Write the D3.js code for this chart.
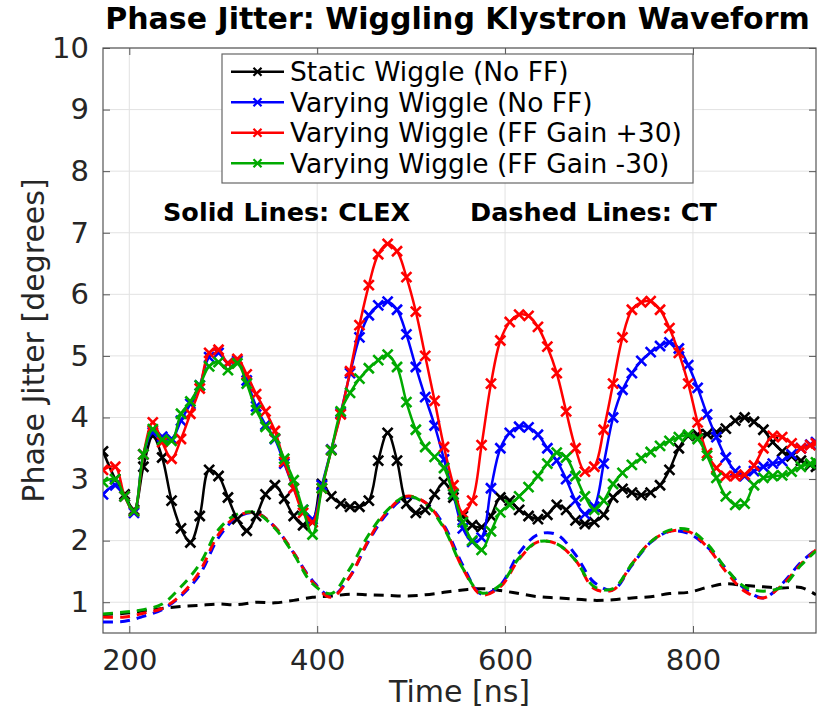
<!DOCTYPE html>
<html><head><meta charset="utf-8">
<script src="https://cdn.jsdelivr.net/npm/d3@7"></script>
<style>body{margin:0;background:#fff}svg{display:block}text{font-family:"DejaVu Sans",sans-serif}</style>
</head><body><svg id="c" width="823" height="712"></svg>
<script>
// ---------- data ----------
const clexTime = [172,185,195,205,215,225,235,245,255,265,275,285,295,305,315,325,335,345,355,365,375,385,395,405,415,425,435,445,455,465,475,485,495,505,515,525,535,545,555,565,575,585,595,605,615,625,635,645,655,665,675,685,695,705,715,725,735,745,755,765,775,785,795,805,815,825,835,845,855,865,875,885,895,905,915,925,931];
const staticNoFF = [3.45,3.0,2.75,2.5,3.2,3.7,3.35,2.65,2.2,1.97,2.4,3.15,3.05,2.7,2.35,2.16,2.4,2.75,2.9,2.68,2.4,2.25,2.3,2.92,2.72,2.6,2.55,2.55,2.65,3.3,3.75,3.3,2.6,2.45,2.5,2.75,2.95,2.7,2.4,2.25,2.22,2.4,2.7,2.65,2.5,2.4,2.35,2.42,2.58,2.5,2.33,2.27,2.3,2.42,2.7,2.84,2.78,2.74,2.78,2.9,3.15,3.5,3.7,3.72,3.73,3.76,3.82,3.95,4.0,3.93,3.8,3.6,3.45,3.37,3.3,3.23,3.2];
const varyingNoFF = [2.75,2.9,2.72,2.45,3.4,3.76,3.69,3.65,3.95,4.22,4.52,4.98,5.05,4.88,4.92,4.6,4.18,3.88,3.65,3.25,2.85,2.5,2.35,2.9,3.48,4.07,4.72,5.3,5.66,5.82,5.88,5.75,5.35,4.82,4.33,3.87,3.32,2.75,2.2,1.98,2.05,2.85,3.5,3.75,3.85,3.84,3.72,3.5,3.3,3.0,2.65,2.43,2.55,3.25,4.0,4.45,4.72,4.92,5.06,5.16,5.22,5.12,4.85,4.48,4.05,3.68,3.35,3.13,3.05,3.13,3.2,3.25,3.29,3.4,3.5,3.56,3.6];
const varyingFFp30 = [3.15,3.2,2.72,2.48,3.4,3.92,3.6,3.33,3.65,4.06,4.47,5.05,5.1,4.88,4.95,4.7,4.38,4.1,3.78,3.28,2.85,2.45,2.3,2.85,3.47,4.05,4.75,5.5,6.15,6.65,6.82,6.7,6.28,5.72,5.0,4.27,3.52,2.9,2.45,2.65,3.55,4.55,5.25,5.55,5.67,5.65,5.47,5.15,4.72,4.1,3.5,3.12,3.2,3.8,4.55,5.3,5.75,5.87,5.89,5.75,5.45,5.05,4.55,3.92,3.42,3.18,3.05,3.05,3.07,3.22,3.5,3.7,3.68,3.58,3.5,3.55,3.58];
const varyingFFm30 = [2.95,3.0,2.72,2.48,3.4,3.81,3.64,3.62,4.06,4.26,4.52,4.83,4.9,4.77,4.88,4.55,4.12,3.85,3.66,3.33,2.98,2.5,2.1,2.85,3.47,4.1,4.4,4.63,4.8,4.93,5.02,4.82,4.25,3.8,3.52,3.36,3.18,2.75,2.3,2.0,1.85,2.15,2.46,2.58,2.72,2.87,3.05,3.25,3.43,3.35,3.05,2.72,2.5,2.65,2.92,3.1,3.23,3.34,3.44,3.54,3.62,3.68,3.72,3.65,3.38,3.02,2.72,2.58,2.6,2.9,3.02,3.05,3.06,3.12,3.2,3.25,3.27];

const ctTime = [172,195,215,235,255,275,295,315,335,355,375,395,415,435,455,475,495,515,535,555,575,595,615,635,655,675,695,715,735,755,775,795,815,835,855,875,895,915,931];
const ctStatic = [0.8,0.82,0.86,0.9,0.93,0.95,0.97,0.96,1.0,0.99,1.03,1.08,1.1,1.13,1.12,1.11,1.1,1.12,1.16,1.2,1.22,1.19,1.14,1.09,1.07,1.05,1.03,1.04,1.07,1.09,1.14,1.16,1.24,1.3,1.27,1.25,1.23,1.24,1.12];
const ctVaryingNoFF = [0.68,0.69,0.77,0.88,1.1,1.45,2.05,2.38,2.45,2.22,1.8,1.35,1.1,1.42,2.0,2.45,2.7,2.62,2.25,1.6,1.13,1.28,1.8,2.1,2.1,1.77,1.32,1.2,1.6,1.97,2.15,2.12,1.9,1.55,1.22,1.07,1.3,1.65,1.85];
const ctFFp30 = [0.76,0.76,0.82,0.9,1.12,1.5,2.1,2.4,2.45,2.22,1.8,1.33,1.08,1.42,2.02,2.48,2.72,2.62,2.22,1.55,1.12,1.25,1.7,1.98,1.95,1.68,1.22,1.2,1.62,1.98,2.15,2.15,1.9,1.5,1.18,1.07,1.28,1.62,1.85];
const ctFFm30 = [0.81,0.84,0.88,0.97,1.25,1.62,2.18,2.43,2.45,2.2,1.78,1.3,1.14,1.55,2.1,2.5,2.72,2.6,2.2,1.55,1.15,1.28,1.72,1.98,1.95,1.68,1.25,1.22,1.62,1.98,2.17,2.18,1.95,1.55,1.25,1.18,1.25,1.6,1.83];

const seriesNames = ["Static Wiggle (No FF)","Varying Wiggle (No FF)","Varying Wiggle (FF Gain +30)","Varying Wiggle (FF Gain -30)"];
const seriesColors = ["#000000","#0000ff","#ff0000","#00aa00"];
const xTicks = [200,400,600,800];
const yTicks = [1,2,3,4,5,6,7,8,9,10];

// ---------- layout ----------
const svg = d3.select("#c");
const L=103, R=816, T=48, B=633;
const x = d3.scaleLinear().domain([172,931]).range([L,R]);
const y = d3.scaleLinear().domain([0.5,10]).range([B,T]);

svg.append("defs").append("clipPath").attr("id","clip")
  .append("rect").attr("x",L).attr("y",T).attr("width",R-L).attr("height",B-T);

// grid
const g = svg.append("g");
g.selectAll(".vg").data(xTicks).join("line")
  .attr("x1",d=>x(d)).attr("x2",d=>x(d)).attr("y1",T).attr("y2",B)
  .attr("stroke","#e2e2e2").attr("stroke-width",1);
g.selectAll(".hg").data(yTicks).join("line")
  .attr("y1",d=>y(d)).attr("y2",d=>y(d)).attr("x1",L).attr("x2",R)
  .attr("stroke","#e2e2e2").attr("stroke-width",1);

// axes (inside ticks)
const axisCol="#555";
const xb = svg.append("g").attr("transform",`translate(0,${B})`).call(d3.axisBottom(x).tickValues(xTicks).tickSizeInner(-7).tickSizeOuter(0).tickPadding(16));
const xt = svg.append("g").attr("transform",`translate(0,${T})`).call(d3.axisTop(x).tickValues(xTicks).tickSizeInner(-7).tickSizeOuter(0).tickFormat(""));
const yl = svg.append("g").attr("transform",`translate(${L},0)`).call(d3.axisLeft(y).tickValues(yTicks).tickSizeInner(-7).tickSizeOuter(0).tickPadding(14));
const yr = svg.append("g").attr("transform",`translate(${R},0)`).call(d3.axisRight(y).tickValues(yTicks).tickSizeInner(-7).tickSizeOuter(0).tickFormat(""));
[xb,xt,yl,yr].forEach(a=>{
  a.select(".domain").remove();
  a.selectAll(".tick line").attr("stroke",axisCol);
  a.selectAll("text").attr("font-size",29).attr("fill","#262626").attr("font-family","DejaVu Sans");
});
xb.selectAll("text").attr("dy","0.71em");
svg.append("rect").attr("x",L).attr("y",T).attr("width",R-L).attr("height",B-T)
  .attr("fill","none").attr("stroke",axisCol).attr("stroke-width",1.2);

// lines
const plot = svg.append("g").attr("clip-path","url(#clip)");
const ctData=[ctStatic,ctVaryingNoFF,ctFFp30,ctFFm30];
const clexData=[staticNoFF,varyingNoFF,varyingFFp30,varyingFFm30];
const dline = d3.line().x(d=>x(d[0])).y(d=>y(d[1])).curve(d3.curveCatmullRom);
ctData.forEach((s,i)=>{
  plot.append("path").datum(ctTime.map((t,k)=>[t,s[k]]))
    .attr("d",dline).attr("fill","none").attr("stroke",seriesColors[i])
    .attr("stroke-width",3).attr("stroke-dasharray","10,7");
});
const sline = d3.line().x(d=>x(d[0])).y(d=>y(d[1])).curve(d3.curveCatmullRom);
const xMark = "M-5,-5L5,5M-5,5L5,-5";
clexData.forEach((s,i)=>{
  const pts = clexTime.map((t,k)=>[t,s[k]]);
  plot.append("path").datum(pts).attr("d",sline).attr("fill","none")
    .attr("stroke",seriesColors[i]).attr("stroke-width",2.5);
  plot.append("g").selectAll("path").data(pts).join("path")
    .attr("transform",d=>`translate(${x(d[0])},${y(d[1])})`)
    .attr("d",xMark).attr("stroke",seriesColors[i]).attr("stroke-width",2.6).attr("fill","none");
});

// title and labels
svg.append("text").attr("x",(L+R)/2-2).attr("y",29).attr("text-anchor","middle")
  .attr("font-size",30).attr("font-weight","bold").attr("fill","#000")
  .text("Phase Jitter: Wiggling Klystron Waveform");
svg.append("text").attr("x",(L+R)/2).attr("y",702).attr("text-anchor","middle")
  .attr("font-size",30).attr("fill","#262626").text("Time [ns]");
svg.append("text").attr("transform",`translate(44,${(T+B)/2}) rotate(-90)`).attr("text-anchor","middle")
  .attr("font-size",30).attr("fill","#262626").text("Phase Jitter [degrees]");

// annotations
svg.append("text").attr("x",163).attr("y",221).attr("font-size",25.5).attr("font-weight","bold").text("Solid Lines: CLEX");
svg.append("text").attr("x",470).attr("y",221).attr("font-size",25.5).attr("font-weight","bold").text("Dashed Lines: CT");

// legend
const lg = svg.append("g");
lg.append("rect").attr("x",222).attr("y",54).attr("width",471).attr("height",129)
  .attr("fill","#fff").attr("stroke","#666").attr("stroke-width",1.2);
seriesNames.forEach((n,i)=>{
  const cy = 71.7 + i*30.5;
  lg.append("line").attr("x1",231).attr("x2",284).attr("y1",cy).attr("y2",cy)
    .attr("stroke",seriesColors[i]).attr("stroke-width",2.5);
  lg.append("path").attr("transform",`translate(257.5,${cy})`).attr("d","M-4,-4L4,4M-4,4L4,-4")
    .attr("stroke",seriesColors[i]).attr("stroke-width",2.2);
  lg.append("text").attr("x",290).attr("y",cy).attr("dy","0.36em").attr("font-size",26.5)
    .attr("fill","#000").text(n);
});
</script></body></html>
